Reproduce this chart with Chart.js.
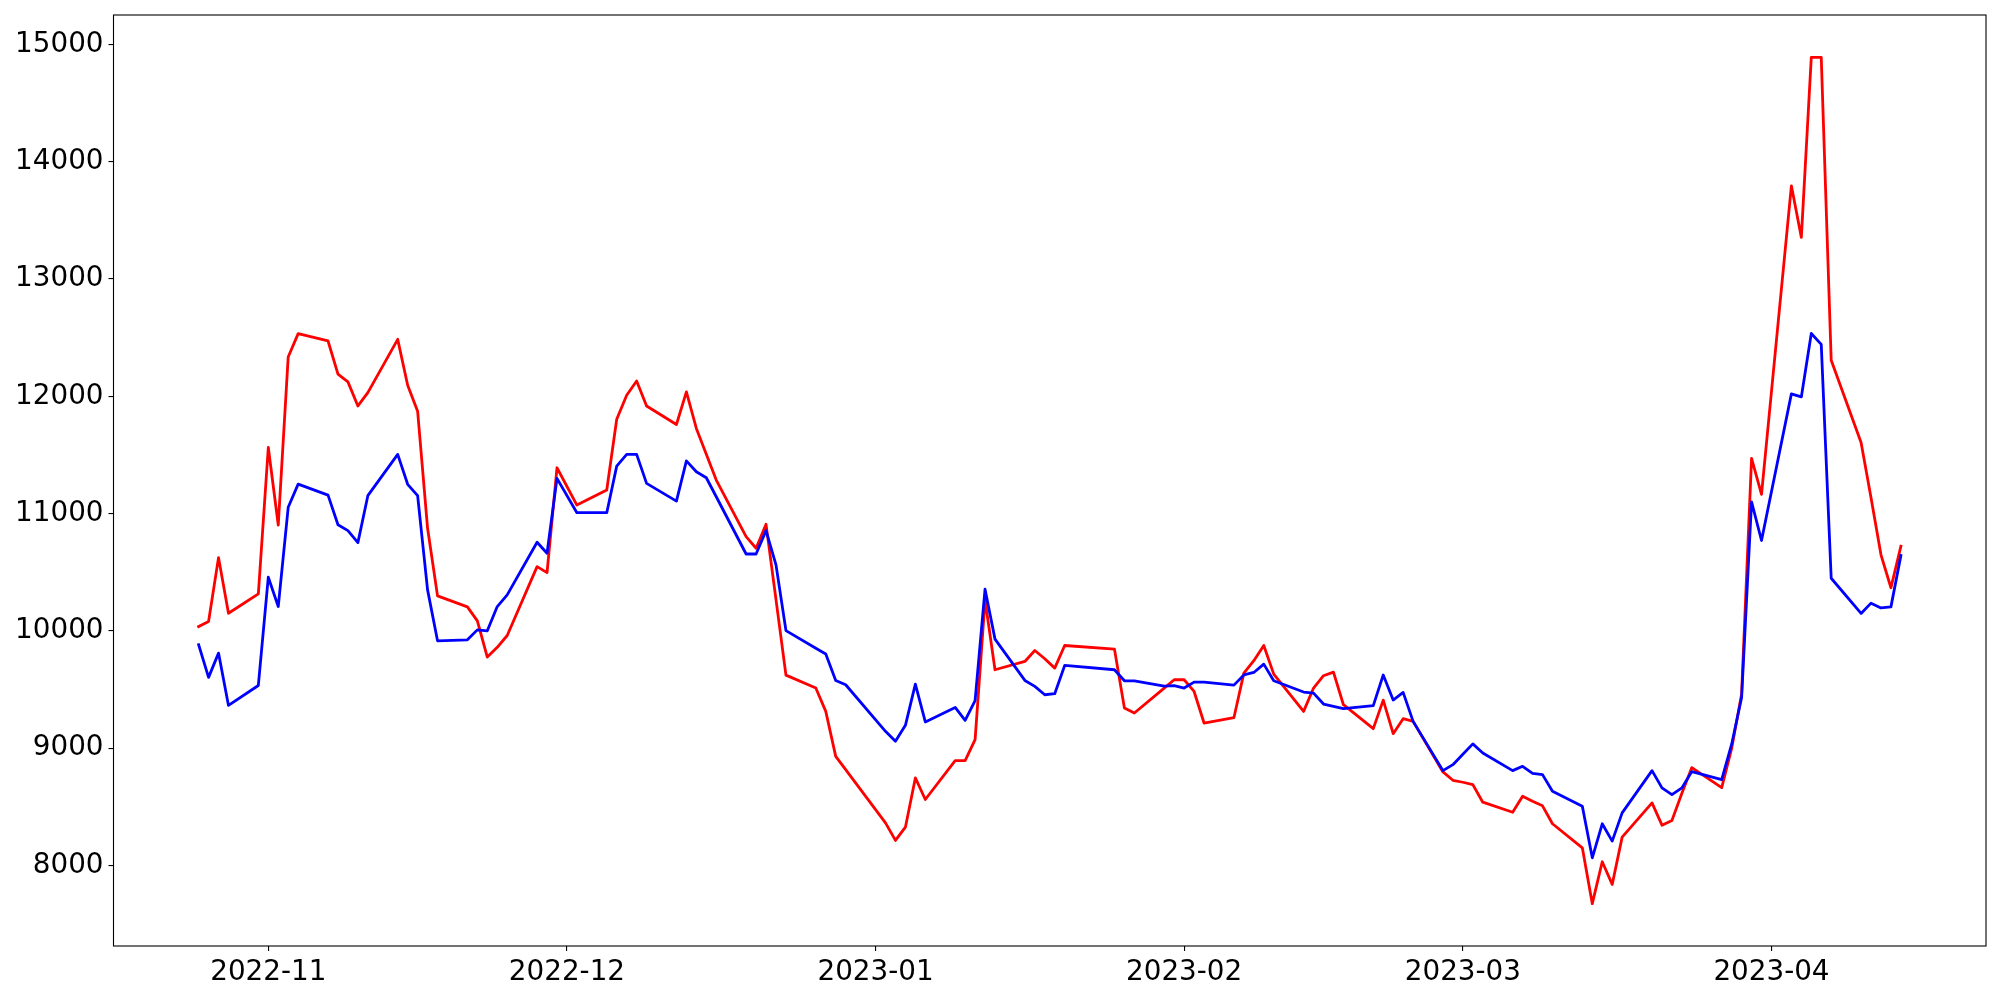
<!DOCTYPE html>
<html>
<head>
<meta charset="utf-8">
<script src="https://cdn.jsdelivr.net/npm/chart.js@4.4.1/dist/chart.umd.min.js"></script>
<style>
  html, body { margin: 0; padding: 0; background: #fff; }
  canvas { display: block; }
</style>
</head>
<body>
<canvas id="chartPrice" width="2000" height="1000"></canvas>
<script>
const dates = [
  '2022-10-25', '2022-10-26', '2022-10-27', '2022-10-28', '2022-10-31',
  '2022-11-01', '2022-11-02', '2022-11-03', '2022-11-04', '2022-11-07',
  '2022-11-08', '2022-11-09', '2022-11-10', '2022-11-11', '2022-11-14',
  '2022-11-15', '2022-11-16', '2022-11-17', '2022-11-18', '2022-11-21',
  '2022-11-22', '2022-11-23', '2022-11-24', '2022-11-25', '2022-11-28',
  '2022-11-29', '2022-11-30', '2022-12-02', '2022-12-05', '2022-12-06',
  '2022-12-07', '2022-12-08', '2022-12-09', '2022-12-12', '2022-12-13',
  '2022-12-14', '2022-12-15', '2022-12-16', '2022-12-19', '2022-12-20',
  '2022-12-21', '2022-12-22', '2022-12-23', '2022-12-26', '2022-12-27',
  '2022-12-28', '2022-12-29', '2023-01-02', '2023-01-03', '2023-01-04',
  '2023-01-05', '2023-01-06', '2023-01-09', '2023-01-10', '2023-01-11',
  '2023-01-12', '2023-01-13', '2023-01-16', '2023-01-17', '2023-01-18',
  '2023-01-19', '2023-01-20', '2023-01-25', '2023-01-26', '2023-01-27',
  '2023-01-30', '2023-01-31', '2023-02-01', '2023-02-02', '2023-02-03',
  '2023-02-06', '2023-02-07', '2023-02-08', '2023-02-09', '2023-02-10',
  '2023-02-13', '2023-02-14', '2023-02-15', '2023-02-16', '2023-02-17',
  '2023-02-20', '2023-02-21', '2023-02-22', '2023-02-23', '2023-02-24',
  '2023-02-27', '2023-02-28', '2023-03-01', '2023-03-02', '2023-03-03',
  '2023-03-06', '2023-03-07', '2023-03-08', '2023-03-09', '2023-03-10',
  '2023-03-13', '2023-03-14', '2023-03-15', '2023-03-16', '2023-03-17',
  '2023-03-20', '2023-03-21', '2023-03-22', '2023-03-23', '2023-03-24',
  '2023-03-27', '2023-03-28', '2023-03-29', '2023-03-30', '2023-03-31',
  '2023-04-03', '2023-04-04', '2023-04-05', '2023-04-06', '2023-04-07',
  '2023-04-10', '2023-04-11', '2023-04-12', '2023-04-13', '2023-04-14',
];

const redValues = [
  10037, 10080, 10625, 10151, 10316,
  11564, 10903, 12336, 12535, 12472,
  12190, 12123, 11918, 12032, 12486,
  12095, 11873, 10875, 10299, 10205,
  10086, 9777, 9860, 9961, 10548,
  10497, 11391, 11073, 11201, 11805,
  12009, 12131, 11918, 11760, 12038,
  11726, 11507, 11286, 10804, 10705,
  10909, 10267, 9623, 9513, 9314,
  8931, 8818, 8364, 8214, 8327,
  8747, 8563, 8894, 8894, 9073,
  10265, 9669, 9740, 9833, 9763,
  9683, 9876, 9845, 9343, 9300,
  9513, 9584, 9584, 9484, 9215,
  9260, 9640, 9746, 9876, 9632,
  9314, 9513, 9618, 9649, 9371,
  9167, 9410, 9124, 9252, 9229,
  8798, 8727, 8710, 8690, 8540,
  8454, 8591, 8548, 8509, 8356,
  8151, 7675, 8032, 7839, 8242,
  8534, 8344, 8384, 8616, 8835,
  8664, 8998, 9463, 11471, 11164,
  13795, 13355, 14890, 14890, 12307,
  11607, 11135, 10649, 10368, 10722,
];

const blueValues = [
  9882, 9604, 9811, 9365, 9535,
  10458, 10208, 11054, 11252, 11158,
  10905, 10855, 10753, 11153, 11505,
  11250, 11153, 10350, 9916, 9924,
  10009, 10001, 10208, 10307, 10756,
  10662, 11301, 11008, 11008, 11405,
  11505, 11505, 11258, 11107, 11450,
  11357, 11306, 11144, 10656, 10656,
  10855, 10563, 10003, 9852, 9803,
  9578, 9541, 9144, 9059, 9195,
  9547, 9224, 9348, 9238, 9405,
  10356, 9930, 9578, 9527, 9456,
  9465, 9706, 9669, 9575, 9575,
  9530, 9533, 9513, 9564, 9564,
  9538, 9625, 9646, 9717, 9575,
  9479, 9470, 9377, 9357, 9337,
  9363, 9624, 9411, 9476, 9229,
  8809, 8860, 8948, 9037, 8960,
  8809, 8846, 8786, 8775, 8633,
  8506, 8066, 8356, 8208, 8449,
  8809, 8662, 8605, 8662, 8801,
  8732, 9034, 9432, 11101, 10771,
  12021, 11995, 12536, 12443, 10449,
  10149, 10237, 10196, 10205, 10643,
];

const monthLabels = ['2022-11', '2022-12', '2023-01', '2023-02', '2023-03', '2023-04'];
const yTickValues = [8000, 9000, 10000, 11000, 12000, 13000, 14000, 15000];

// days counted from 2022-11-01
const dayOf = (s) => {
  const [y, m, d] = s.split('-').map(Number);
  return (Date.UTC(y, m - 1, d || 1) - Date.UTC(2022, 10, 1)) / 86400000;
};

const toPoints = (values) => values.map((v, i) => ({ x: dayOf(dates[i]), y: v }));

const frame = {
  id: 'frame',
  afterDraw(chart) {
    const { ctx, chartArea: a } = chart;
    ctx.save();
    ctx.strokeStyle = '#000';
    ctx.lineWidth = 1.1;
    ctx.strokeRect(a.left, a.top, a.right - a.left, a.bottom - a.top);
    ctx.restore();
  },
};

Chart.defaults.font.family = "'DejaVu Sans', sans-serif";
Chart.defaults.font.size = 27.8;
Chart.defaults.color = '#000';

const tickGrid = {
  drawOnChartArea: false,
  color: '#000',
  lineWidth: 1.1,
  tickLength: 5,
};

const config = {
  type: 'line',
  data: {
    datasets: [
      {
        data: toPoints(blueValues),
        borderColor: '#0000ff',
        borderWidth: 2.8,
      },
      {
        data: toPoints(redValues),
        borderColor: '#ff0000',
        borderWidth: 2.8,
      },
    ],
  },
  options: {
    responsive: false,
    animation: false,
    layout: { padding: { top: 15, right: 14, left: 0, bottom: 0 } },
    elements: {
      point: { radius: 0 },
      line: { tension: 0, borderJoinStyle: 'round', borderCapStyle: 'square' },
    },
    plugins: {
      legend: { display: false },
      tooltip: { enabled: false },
    },
    scales: {
      x: {
        type: 'linear',
        min: -15.55,
        max: 172.55,
        grid: tickGrid,
        border: { display: false },
        afterBuildTicks: (s) => { s.ticks = monthLabels.map((l) => ({ value: dayOf(l) })); },
        afterFit: (s) => {
          s.height = 54;
          s.paddingLeft = 0;
          s.paddingRight = 0;
        },
        ticks: {
          autoSkip: false,
          maxRotation: 0,
          padding: 5,
          callback: (v, i) => monthLabels[i],
        },
      },
      y: {
        min: 7314,
        max: 15251,
        grid: tickGrid,
        border: { display: false },
        afterBuildTicks: (s) => { s.ticks = yTickValues.map((v) => ({ value: v })); },
        afterFit: (s) => {
          s.width = 113.5;
          s.paddingTop = 0;
          s.paddingBottom = 0;
        },
        ticks: {
          padding: 5,
          callback: (v) => String(v),
        },
      },
    },
  },
  plugins: [frame],
};

new Chart(document.querySelector('#chartPrice'), config);
</script>
</body>
</html>
